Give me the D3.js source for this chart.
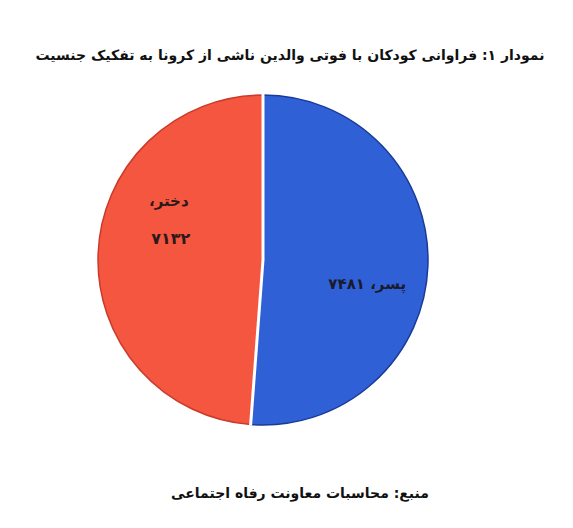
<!DOCTYPE html>
<html lang="fa">
<head>
<meta charset="UTF-8">
<title>نمودار ۱</title>
<script src="https://d3js.org/d3.v7.min.js"></script>
<style>
    body { margin: 0; background: #ffffff; font-family: "DejaVu Sans", sans-serif; }
    svg text { font-family: "DejaVu Sans", sans-serif; font-weight: bold; }
</style>
</head>
<body>
<div id="chart"></div>
<script>
const categories = ["پسر", "دختر"];
const counts = [7481, 7132];
const countLabels = ["۷۴۸۱", "۷۱۳۲"];
const colors = ["#2f60d6", "#f4563f"];
const strokes = ["#1a3a9a", "#c93a2a"];

const width = 573, height = 528;
const cx = 263, cy = 260, r = 165;

const svg = d3.select("#chart").append("svg")
    .attr("width", width)
    .attr("height", height);

// title
svg.append("text")
    .attr("x", 290).attr("y", 60)
    .attr("text-anchor", "middle")
    .attr("direction", "rtl")
    .attr("font-size", 14)
    .attr("fill", "#111")
    .text("نمودار ۱: فراوانی کودکان با فوتی والدین ناشی از کرونا به تفکیک جنسیت");

const data = categories.map((c, i) => ({ cat: c, value: counts[i], label: countLabels[i], i }));

const pie = d3.pie().sort(null).value(d => d.value);
const arc = d3.arc().innerRadius(0).outerRadius(r);

const g = svg.append("g").attr("transform", `translate(${cx},${cy})`);

g.selectAll("path.slice")
    .data(pie(data))
    .join("path")
    .attr("class", "slice")
    .attr("d", arc)
    .attr("fill", d => colors[d.data.i])
    .attr("stroke", d => strokes[d.data.i])
    .attr("stroke-width", 1.5);

// white separator lines between slices
g.selectAll("line.sep")
    .data(pie(data))
    .join("line")
    .attr("class", "sep")
    .attr("x1", 0).attr("y1", 0)
    .attr("x2", d => (r + 1) * Math.sin(d.startAngle))
    .attr("y2", d => -(r + 1) * Math.cos(d.startAngle))
    .attr("stroke", "#ffffff")
    .attr("stroke-width", 3);

// labels
const labelArc = d3.arc().innerRadius(r * 0.62).outerRadius(r * 0.62);
pie(data).forEach(d => {
    const [lx, ly] = labelArc.centroid(d);
    if (d.data.i === 0) {
        g.append("text")
            .attr("x", lx + 2).attr("y", ly + 25)
            .attr("text-anchor", "middle")
            .attr("direction", "rtl")
            .attr("font-size", 15)
            .attr("fill", "#1a1a2a")
            .text(d.data.cat + "، " + d.data.label);
    } else {
        g.append("text")
            .attr("x", lx + 8).attr("y", ly - 50)
            .attr("text-anchor", "middle")
            .attr("direction", "rtl")
            .attr("font-size", 15)
            .attr("fill", "#2a1a1a")
            .text(d.data.cat + "،");
        g.append("text")
            .attr("x", lx + 10).attr("y", ly - 12)
            .attr("text-anchor", "middle")
            .attr("direction", "rtl")
            .attr("font-size", 16)
            .attr("fill", "#2a1a1a")
            .text(d.data.label);
    }
});

// source
svg.append("text")
    .attr("x", 300).attr("y", 498)
    .attr("text-anchor", "middle")
    .attr("direction", "rtl")
    .attr("font-size", 14)
    .attr("fill", "#111")
    .text("منبع: محاسبات معاونت رفاه اجتماعی");
</script>
</body>
</html>
